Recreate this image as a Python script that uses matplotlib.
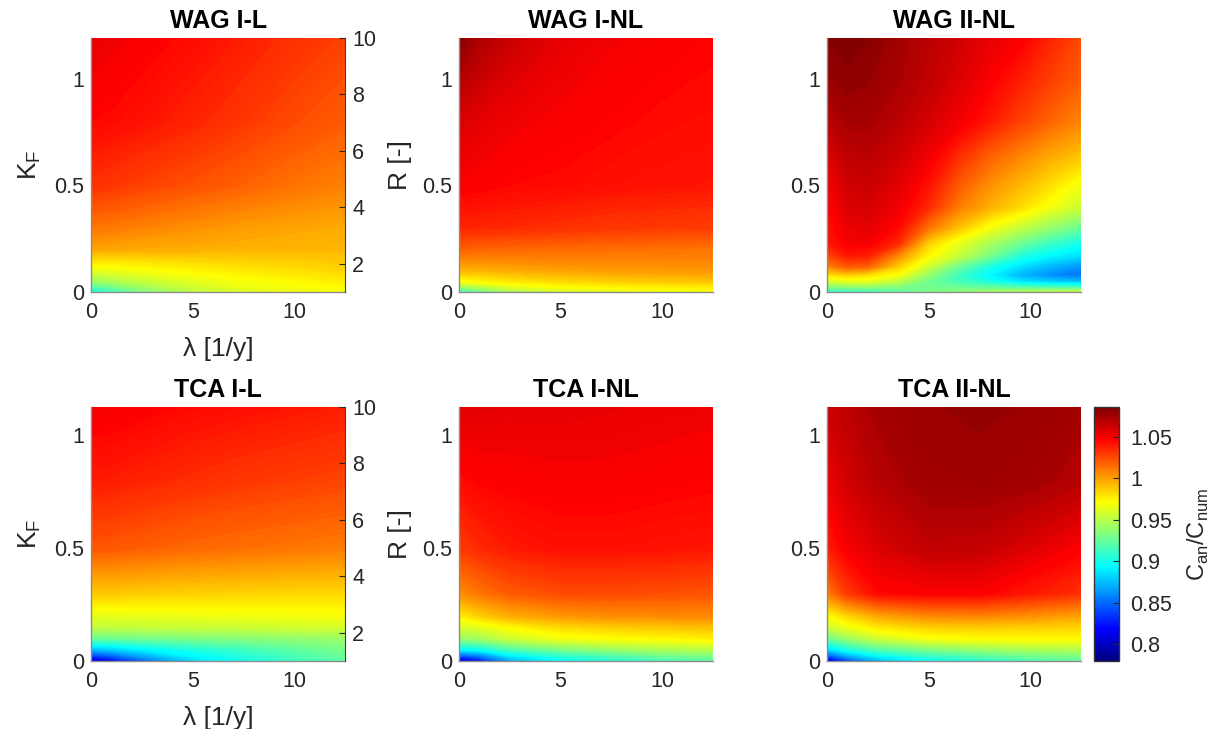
import numpy as np
import matplotlib
matplotlib.use("Agg")
import matplotlib.pyplot as plt
from matplotlib.colors import LinearSegmentedColormap, Normalize
from matplotlib.cm import ScalarMappable

plt.rcParams['font.family'] = ['Liberation Sans', 'DejaVu Sans']

#-----------------------------------------------------------------------------
# Ratio C_an/C_num sampled on (lambda, K_F) nodes, rows = K_F, cols = lambda
lam = [0, 1, 2.5, 5, 7.5, 10, 12.5]
lam_fine = [0, 1, 2, 3.5, 5, 6.5, 8, 9.5, 11, 12.5]

kf_wag = [0, 0.02, 0.05, 0.1, 0.15, 0.2, 0.3, 0.5, 0.8, 1.19]
kf_tca = [0, 0.02, 0.05, 0.1, 0.15, 0.2, 0.3, 0.5, 0.8, 1.125]
kf_wag_fine = [0, 0.02, 0.05, 0.08, 0.12, 0.17, 0.23, 0.3, 0.4, 0.5, 0.65, 0.8, 1.0, 1.19]

wag_i_l = [
    [0.895, 0.910, 0.930, 0.950, 0.960, 0.965, 0.970],
    [0.915, 0.925, 0.940, 0.955, 0.965, 0.968, 0.971],
    [0.940, 0.945, 0.952, 0.962, 0.968, 0.972, 0.976],
    [0.962, 0.964, 0.968, 0.973, 0.977, 0.980, 0.983],
    [0.980, 0.980, 0.981, 0.983, 0.985, 0.986, 0.988],
    [0.998, 0.997, 0.996, 0.995, 0.994, 0.993, 0.993],
    [1.012, 1.011, 1.008, 1.004, 1.000, 0.998, 0.996],
    [1.033, 1.031, 1.028, 1.023, 1.018, 1.013, 1.009],
    [1.046, 1.045, 1.042, 1.037, 1.031, 1.025, 1.020],
    [1.054, 1.052, 1.049, 1.044, 1.039, 1.033, 1.028],
]

wag_i_nl = [
    [0.905, 0.920, 0.940, 0.955, 0.962, 0.966, 0.968],
    [0.935, 0.945, 0.958, 0.968, 0.971, 0.973, 0.974],
    [0.968, 0.972, 0.977, 0.982, 0.985, 0.987, 0.988],
    [0.992, 0.993, 0.995, 0.998, 1.000, 1.001, 1.002],
    [1.006, 1.006, 1.007, 1.008, 1.008, 1.008, 1.008],
    [1.018, 1.017, 1.016, 1.015, 1.014, 1.013, 1.012],
    [1.037, 1.036, 1.035, 1.033, 1.031, 1.030, 1.029],
    [1.049, 1.048, 1.046, 1.045, 1.043, 1.042, 1.041],
    [1.058, 1.055, 1.052, 1.049, 1.047, 1.045, 1.044],
    [1.083, 1.072, 1.063, 1.055, 1.051, 1.049, 1.047],
]

wag_ii_nl = [
    [0.900, 0.905, 0.910, 0.920, 0.930, 0.937, 0.942, 0.946, 0.950, 0.952],
    [0.930, 0.930, 0.932, 0.930, 0.928, 0.926, 0.924, 0.920, 0.918, 0.918],
    [0.955, 0.962, 0.962, 0.950, 0.928, 0.914, 0.900, 0.885, 0.877, 0.872],
    [0.978, 0.985, 0.980, 0.968, 0.938, 0.913, 0.893, 0.872, 0.860, 0.852],
    [1.008, 1.020, 1.018, 0.985, 0.955, 0.926, 0.903, 0.886, 0.872, 0.862],
    [1.025, 1.040, 1.038, 1.005, 0.972, 0.953, 0.930, 0.905, 0.892, 0.885],
    [1.040, 1.050, 1.050, 1.035, 0.985, 0.963, 0.945, 0.928, 0.912, 0.900],
    [1.042, 1.053, 1.055, 1.045, 1.012, 0.988, 0.967, 0.952, 0.938, 0.925],
    [1.046, 1.058, 1.060, 1.052, 1.035, 1.010, 0.995, 0.982, 0.967, 0.955],
    [1.050, 1.061, 1.063, 1.056, 1.042, 1.020, 1.004, 0.992, 0.980, 0.966],
    [1.057, 1.067, 1.068, 1.062, 1.052, 1.035, 1.020, 1.009, 0.998, 0.990],
    [1.067, 1.074, 1.074, 1.068, 1.060, 1.051, 1.040, 1.028, 1.017, 1.007],
    [1.077, 1.081, 1.079, 1.073, 1.066, 1.058, 1.049, 1.039, 1.029, 1.020],
    [1.083, 1.086, 1.083, 1.075, 1.068, 1.061, 1.054, 1.049, 1.037, 1.025],
]

tca_i_l = [
    [0.800, 0.815, 0.845, 0.882, 0.900, 0.912, 0.922],
    [0.830, 0.842, 0.865, 0.892, 0.905, 0.916, 0.926],
    [0.872, 0.878, 0.890, 0.902, 0.912, 0.922, 0.930],
    [0.925, 0.926, 0.928, 0.931, 0.934, 0.937, 0.940],
    [0.952, 0.952, 0.953, 0.954, 0.955, 0.957, 0.958],
    [0.963, 0.963, 0.964, 0.965, 0.966, 0.967, 0.968],
    [0.987, 0.987, 0.986, 0.985, 0.984, 0.983, 0.983],
    [1.022, 1.021, 1.019, 1.016, 1.014, 1.012, 1.010],
    [1.040, 1.039, 1.037, 1.034, 1.031, 1.029, 1.027],
    [1.050, 1.050, 1.048, 1.045, 1.043, 1.041, 1.039],
]

tca_i_nl = [
    [0.795, 0.820, 0.868, 0.893, 0.905, 0.915, 0.922],
    [0.835, 0.850, 0.885, 0.905, 0.915, 0.925, 0.930],
    [0.890, 0.895, 0.915, 0.930, 0.938, 0.945, 0.948],
    [0.940, 0.942, 0.955, 0.966, 0.970, 0.972, 0.975],
    [0.958, 0.962, 0.972, 0.982, 0.986, 0.988, 0.990],
    [0.975, 0.985, 0.995, 1.002, 1.005, 1.006, 1.006],
    [1.005, 1.012, 1.020, 1.025, 1.025, 1.024, 1.022],
    [1.030, 1.035, 1.040, 1.043, 1.043, 1.042, 1.041],
    [1.045, 1.047, 1.048, 1.049, 1.049, 1.048, 1.047],
    [1.056, 1.056, 1.055, 1.055, 1.054, 1.053, 1.052],
]

tca_ii_nl = [
    [0.795, 0.835, 0.870, 0.895, 0.905, 0.915, 0.924],
    [0.835, 0.865, 0.890, 0.908, 0.918, 0.926, 0.930],
    [0.880, 0.900, 0.918, 0.930, 0.938, 0.944, 0.946],
    [0.925, 0.940, 0.955, 0.968, 0.971, 0.972, 0.972],
    [0.955, 0.965, 0.977, 0.985, 0.986, 0.985, 0.984],
    [0.970, 0.983, 0.997, 1.006, 1.007, 1.004, 0.998],
    [1.010, 1.030, 1.045, 1.048, 1.048, 1.040, 1.033],
    [1.038, 1.050, 1.058, 1.066, 1.065, 1.057, 1.048],
    [1.052, 1.061, 1.069, 1.076, 1.077, 1.075, 1.069],
    [1.062, 1.067, 1.074, 1.078, 1.079, 1.078, 1.075],
]

clim = (0.78, 1.086)
cbar_ticks = [0.8, 0.85, 0.9, 0.95, 1, 1.05]
cbar_ticklabels = ['0.8', '0.85', '0.9', '0.95', '1', '1.05']

grey = '0.15'

#-----------------------------------------------------------------------------
def jet_matlab():
    # MATLAB-style jet: dark blue -> blue -> cyan -> yellow -> red -> dark red
    return LinearSegmentedColormap.from_list('jet_m', [
        (0.0, (0, 0, 0.5)),
        (1/8, (0, 0, 1)),
        (3/8, (0, 1, 1)),
        (5/8, (1, 1, 0)),
        (7/8, (1, 0, 0)),
        (1.0, (0.5, 0, 0)),
    ], N=256)

#-----------------------------------------------------------------------------
def draw_panel(ax, x, y, z, title, cmap, norm):
    X, Y = np.meshgrid(x, y)
    levels = np.linspace(clim[0], clim[1], 200)
    cs = ax.contourf(X, Y, np.array(z), levels=levels, cmap=cmap, norm=norm, extend='both')
    cs.set_edgecolor('face')
    cs.set_linewidth(0.4)

    ax.set_xlim(0, 12.5)
    ax.set_ylim(0, y[-1])
    ax.set_xticks([0, 5, 10])
    ax.set_xticklabels(['0', '5', '10'])
    ax.set_yticks([0, 0.5, 1])
    ax.set_yticklabels(['0', '0.5', '1'])
    ax.tick_params(axis='both', length=0, labelsize=15.5, colors=grey)
    ax.tick_params(axis='x', pad=7)
    ax.tick_params(axis='y', pad=5)
    for s in ['top', 'right']:
        ax.spines[s].set_visible(False)
    for s in ['left', 'bottom']:
        ax.spines[s].set_color('0.55')
        ax.spines[s].set_linewidth(1.0)
    ax.set_title(title, fontsize=18, fontweight='bold', pad=7)
    return cs

#-----------------------------------------------------------------------------
def add_r_axis(ax):
    ax2 = ax.twinx()
    ax2.set_ylim(1, 10)
    ax2.set_yticks([2, 4, 6, 8, 10])
    ax2.set_yticklabels(['2', '4', '6', '8', '10'])
    ax2.tick_params(axis='y', direction='in', length=4, width=0.8,
                    labelsize=15.5, colors=grey, pad=5)
    for s in ['top', 'left', 'bottom']:
        ax2.spines[s].set_visible(False)
    ax2.spines['right'].set_color('0.25')
    ax2.set_ylabel('R [-]', fontsize=19, color=grey)
    ax2.yaxis.set_label_coords(1.17, 0.5)
    return ax2

#-----------------------------------------------------------------------------
if __name__ == "__main__":

    cmap = jet_matlab()
    norm = Normalize(vmin=clim[0], vmax=clim[1])

    fig = plt.figure(figsize=(12.22, 7.29), dpi=100)

    lefts = [0.0745, 0.3756, 0.6768]
    bottoms = [0.5995, 0.0933]
    w, h = 0.2079, 0.3484

    panels = [
        (0, 0, lam, kf_wag, wag_i_l, 'WAG I-L'),
        (0, 1, lam, kf_wag, wag_i_nl, 'WAG I-NL'),
        (0, 2, lam_fine, kf_wag_fine, wag_ii_nl, 'WAG II-NL'),
        (1, 0, lam, kf_tca, tca_i_l, 'TCA I-L'),
        (1, 1, lam, kf_tca, tca_i_nl, 'TCA I-NL'),
        (1, 2, lam, kf_tca, tca_ii_nl, 'TCA II-NL'),
    ]

    for row, col, x, y, z, title in panels:
        ax = fig.add_axes([lefts[col], bottoms[row], w, h])
        draw_panel(ax, x, y, z, title, cmap, norm)
        if col == 0:
            ax.set_ylabel(r'K$_\mathregular{F}$', fontsize=19, color=grey)
            ax.yaxis.set_label_coords(-0.19, 0.5)
            ax.set_xlabel('λ [1/y]', fontsize=19, color=grey, labelpad=10)
            add_r_axis(ax)

    # Colorbar next to the last panel
    cax = fig.add_axes([0.8953, 0.0933, 0.0205, 0.3484])
    cb = fig.colorbar(ScalarMappable(norm=norm, cmap=cmap), cax=cax)
    cb.set_ticks(cbar_ticks)
    cb.set_ticklabels(cbar_ticklabels)
    cb.ax.tick_params(direction='in', length=4, width=0.8, labelsize=15.5,
                      colors=grey, pad=8)
    cb.outline.set_edgecolor('0.2')
    cb.outline.set_linewidth(1.0)
    cb.set_label(r'C$_\mathregular{an}$/C$_\mathregular{num}$', fontsize=17,
                 color=grey, labelpad=10)

    fig.savefig('out.png', dpi=100)
